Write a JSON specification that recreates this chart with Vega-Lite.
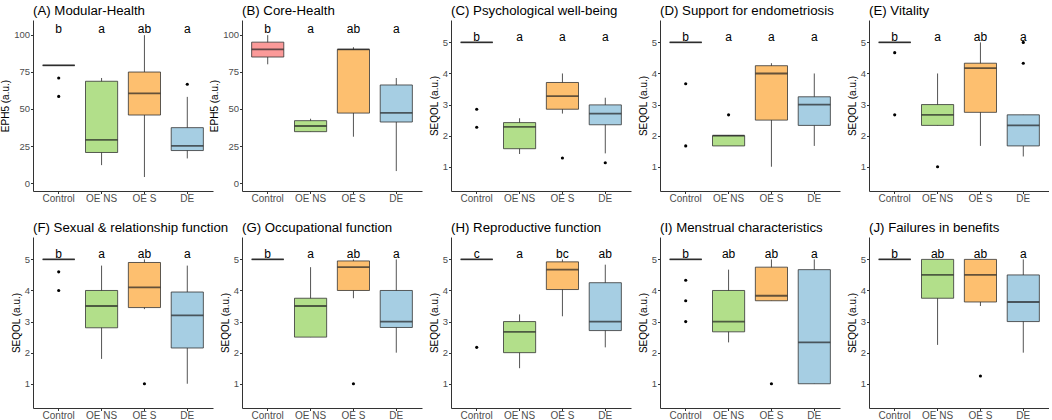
{
  "$schema": "https://vega.github.io/schema/vega-lite/v6.json",
  "padding": {"left": 0, "top": 3, "right": 0, "bottom": 0},
  "bounds": "flush",
  "columns": 5,
  "spacing": {"row": 46, "column": 29},
  "data": {
    "values": [
      {"p": "A", "g": "Control", "lo": 79.3, "q1": 79.3, "med": 79.3, "q3": 79.3, "hi": 79.3, "sig": "b"},
      {"p": "A", "g": "OE NS", "lo": 12.2, "q1": 20.7, "med": 29.2, "q3": 68.6, "hi": 70.8, "sig": "a"},
      {"p": "A", "g": "OE S", "lo": 4.2, "q1": 45.9, "med": 60.4, "q3": 74.8, "hi": 99.6, "sig": "ab"},
      {"p": "A", "g": "DE", "lo": 16.7, "q1": 22.0, "med": 25.2, "q3": 37.4, "hi": 58.1, "sig": "a"},
      {"p": "B", "g": "Control", "lo": 80.0, "q1": 84.9, "med": 90.0, "q3": 94.9, "hi": 99.6, "sig": "b"},
      {"p": "B", "g": "OE NS", "lo": 34.7, "q1": 34.7, "med": 38.5, "q3": 42.1, "hi": 43.4, "sig": "a"},
      {"p": "B", "g": "OE S", "lo": 31.3, "q1": 47.2, "med": 90.0, "q3": 90.0, "hi": 91.5, "sig": "ab"},
      {"p": "B", "g": "DE", "lo": 8.2, "q1": 41.2, "med": 47.4, "q3": 66.1, "hi": 70.8, "sig": "a"},
      {"p": "C", "g": "Control", "lo": 5, "q1": 5, "med": 5, "q3": 5, "hi": 5, "sig": "b"},
      {"p": "C", "g": "OE NS", "lo": 1.41, "q1": 1.58, "med": 2.28, "q3": 2.42, "hi": 2.56, "sig": "a"},
      {"p": "C", "g": "OE S", "lo": 2.71, "q1": 2.85, "med": 3.27, "q3": 3.71, "hi": 4.0, "sig": "a"},
      {"p": "C", "g": "DE", "lo": 1.43, "q1": 2.35, "med": 2.71, "q3": 2.99, "hi": 3.22, "sig": "a"},
      {"p": "D", "g": "Control", "lo": 5, "q1": 5, "med": 5, "q3": 5, "hi": 5, "sig": "b"},
      {"p": "D", "g": "OE NS", "lo": 1.67, "q1": 1.67, "med": 2.0, "q3": 2.0, "hi": 2.0, "sig": "a"},
      {"p": "D", "g": "OE S", "lo": 1.0, "q1": 2.5, "med": 4.0, "q3": 4.25, "hi": 4.33, "sig": "a"},
      {"p": "D", "g": "DE", "lo": 1.67, "q1": 2.33, "med": 3.0, "q3": 3.25, "hi": 4.0, "sig": "a"},
      {"p": "E", "g": "Control", "lo": 5, "q1": 5, "med": 5, "q3": 5, "hi": 5, "sig": "b"},
      {"p": "E", "g": "OE NS", "lo": 2.33, "q1": 2.33, "med": 2.67, "q3": 3.0, "hi": 4.0, "sig": "a"},
      {"p": "E", "g": "OE S", "lo": 1.67, "q1": 2.75, "med": 4.17, "q3": 4.33, "hi": 5.0, "sig": "ab"},
      {"p": "E", "g": "DE", "lo": 1.33, "q1": 1.67, "med": 2.33, "q3": 2.67, "hi": 2.67, "sig": "a"},
      {"p": "F", "g": "Control", "lo": 5, "q1": 5, "med": 5, "q3": 5, "hi": 5, "sig": "b"},
      {"p": "F", "g": "OE NS", "lo": 1.8, "q1": 2.8, "med": 3.5, "q3": 4.0, "hi": 4.8, "sig": "a"},
      {"p": "F", "g": "OE S", "lo": 3.4, "q1": 3.45, "med": 4.1, "q3": 4.9, "hi": 5.0, "sig": "ab"},
      {"p": "F", "g": "DE", "lo": 1.0, "q1": 2.15, "med": 3.2, "q3": 3.95, "hi": 4.8, "sig": "a"},
      {"p": "G", "g": "Control", "lo": 5, "q1": 5, "med": 5, "q3": 5, "hi": 5, "sig": "b"},
      {"p": "G", "g": "OE NS", "lo": 2.5, "q1": 2.5, "med": 3.5, "q3": 3.75, "hi": 4.75, "sig": "a"},
      {"p": "G", "g": "OE S", "lo": 3.75, "q1": 4.0, "med": 4.75, "q3": 4.95, "hi": 5.0, "sig": "ab"},
      {"p": "G", "g": "DE", "lo": 2.0, "q1": 2.81, "med": 3.0, "q3": 4.0, "hi": 5.0, "sig": "a"},
      {"p": "H", "g": "Control", "lo": 5, "q1": 5, "med": 5, "q3": 5, "hi": 5, "sig": "c"},
      {"p": "H", "g": "OE NS", "lo": 1.5, "q1": 2.0, "med": 2.67, "q3": 3.0, "hi": 3.23, "sig": "a"},
      {"p": "H", "g": "OE S", "lo": 3.17, "q1": 4.03, "med": 4.67, "q3": 4.92, "hi": 5.0, "sig": "bc"},
      {"p": "H", "g": "DE", "lo": 2.17, "q1": 2.71, "med": 3.0, "q3": 4.25, "hi": 4.83, "sig": "ab"},
      {"p": "I", "g": "Control", "lo": 5, "q1": 5, "med": 5, "q3": 5, "hi": 5, "sig": "b"},
      {"p": "I", "g": "OE NS", "lo": 2.33, "q1": 2.67, "med": 3.0, "q3": 4.0, "hi": 4.67, "sig": "ab"},
      {"p": "I", "g": "OE S", "lo": 3.67, "q1": 3.67, "med": 3.83, "q3": 4.75, "hi": 5.0, "sig": "ab"},
      {"p": "I", "g": "DE", "lo": 1.0, "q1": 1.0, "med": 2.33, "q3": 4.67, "hi": 5.0, "sig": "a"},
      {"p": "J", "g": "Control", "lo": 5, "q1": 5, "med": 5, "q3": 5, "hi": 5, "sig": "b"},
      {"p": "J", "g": "OE NS", "lo": 2.25, "q1": 3.75, "med": 4.5, "q3": 5.0, "hi": 5.0, "sig": "ab"},
      {"p": "J", "g": "OE S", "lo": 3.5, "q1": 3.63, "med": 4.5, "q3": 5.0, "hi": 5.0, "sig": "ab"},
      {"p": "J", "g": "DE", "lo": 2.0, "q1": 3.0, "med": 3.63, "q3": 4.5, "hi": 5.0, "sig": "a"},
      {"p": "A", "g": "Control", "out": 70.8},
      {"p": "A", "g": "Control", "out": 58.4},
      {"p": "A", "g": "DE", "out": 66.6},
      {"p": "C", "g": "Control", "out": 2.85},
      {"p": "C", "g": "Control", "out": 2.27},
      {"p": "C", "g": "OE S", "out": 1.28},
      {"p": "C", "g": "DE", "out": 1.13},
      {"p": "D", "g": "Control", "out": 3.67},
      {"p": "D", "g": "Control", "out": 1.67},
      {"p": "D", "g": "OE NS", "out": 2.67},
      {"p": "E", "g": "Control", "out": 4.67},
      {"p": "E", "g": "Control", "out": 2.67},
      {"p": "E", "g": "OE NS", "out": 1.0},
      {"p": "E", "g": "DE", "out": 5.0},
      {"p": "E", "g": "DE", "out": 4.33},
      {"p": "F", "g": "Control", "out": 4.6},
      {"p": "F", "g": "Control", "out": 4.0},
      {"p": "F", "g": "OE S", "out": 1.0},
      {"p": "G", "g": "OE S", "out": 1.0},
      {"p": "H", "g": "Control", "out": 2.17},
      {"p": "I", "g": "Control", "out": 4.33},
      {"p": "I", "g": "Control", "out": 3.67},
      {"p": "I", "g": "Control", "out": 3.0},
      {"p": "I", "g": "OE S", "out": 1.0},
      {"p": "J", "g": "OE S", "out": 1.25}
    ]
  },
  "concat": [
    {
      "title": "(A) Modular-Health",
      "width": 180, "height": 171,
      "transform": [{"filter": "datum.p == 'A'"}],
      "encoding": {"x": {"field": "g", "type": "nominal", "sort": ["Control", "OE NS", "OE S", "DE"], "scale": {"type": "band"}, "title": null}},
      "layer": [
        {"mark": {"type": "rule", "color": "#555555", "strokeWidth": 1}, "encoding": {"y": {"field": "lo", "type": "quantitative", "title": "EPH5 (a.u.)", "scale": {"domain": [-5.2, 109.8], "nice": false, "zero": false}, "axis": {"values": [0, 25, 50, 75, 100]}}, "y2": {"field": "hi"}}},
        {"mark": {"type": "bar", "stroke": "#333333", "strokeWidth": 0.8}, "encoding": {"y": {"field": "q1", "type": "quantitative", "title": "EPH5 (a.u.)"}, "y2": {"field": "q3"}, "color": {"field": "g", "legend": null}}},
        {"mark": {"type": "tick", "color": "#222222", "thickness": 1.8, "size": 32}, "encoding": {"y": {"field": "med", "type": "quantitative", "title": "EPH5 (a.u.)"}}},
        {"mark": {"type": "point", "filled": true, "color": "black", "size": 10, "opacity": 1}, "encoding": {"y": {"field": "out", "type": "quantitative", "title": "EPH5 (a.u.)"}}},
        {"transform": [{"filter": "isValid(datum.sig)"}], "mark": {"type": "text", "fontSize": 12}, "encoding": {"y": {"datum": 103.6}, "text": {"field": "sig"}}}
      ]
    },
    {
      "title": "(B) Core-Health",
      "width": 180, "height": 171,
      "transform": [{"filter": "datum.p == 'B'"}],
      "encoding": {"x": {"field": "g", "type": "nominal", "sort": ["Control", "OE NS", "OE S", "DE"], "scale": {"type": "band"}, "title": null}},
      "layer": [
        {"mark": {"type": "rule", "color": "#555555", "strokeWidth": 1}, "encoding": {"y": {"field": "lo", "type": "quantitative", "title": "EPH5 (a.u.)", "scale": {"domain": [-5.2, 109.8], "nice": false, "zero": false}, "axis": {"values": [0, 25, 50, 75, 100]}}, "y2": {"field": "hi"}}},
        {"mark": {"type": "bar", "stroke": "#333333", "strokeWidth": 0.8}, "encoding": {"y": {"field": "q1", "type": "quantitative", "title": "EPH5 (a.u.)"}, "y2": {"field": "q3"}, "color": {"field": "g", "legend": null}}},
        {"mark": {"type": "tick", "color": "#222222", "thickness": 1.8, "size": 32}, "encoding": {"y": {"field": "med", "type": "quantitative", "title": "EPH5 (a.u.)"}}},
        {"mark": {"type": "point", "filled": true, "color": "black", "size": 10, "opacity": 1}, "encoding": {"y": {"field": "out", "type": "quantitative", "title": "EPH5 (a.u.)"}}},
        {"transform": [{"filter": "isValid(datum.sig)"}], "mark": {"type": "text", "fontSize": 12}, "encoding": {"y": {"datum": 103.6}, "text": {"field": "sig"}}}
      ]
    },
    {
      "title": "(C) Psychological well-being",
      "width": 180, "height": 171,
      "transform": [{"filter": "datum.p == 'C'"}],
      "encoding": {"x": {"field": "g", "type": "nominal", "sort": ["Control", "OE NS", "OE S", "DE"], "scale": {"type": "band"}, "title": null}},
      "layer": [
        {"mark": {"type": "rule", "color": "#555555", "strokeWidth": 1}, "encoding": {"y": {"field": "lo", "type": "quantitative", "title": "SEQOL (a.u.)", "scale": {"domain": [0.22, 5.72], "nice": false, "zero": false}, "axis": {"values": [1, 2, 3, 4, 5]}}, "y2": {"field": "hi"}}},
        {"mark": {"type": "bar", "stroke": "#333333", "strokeWidth": 0.8}, "encoding": {"y": {"field": "q1", "type": "quantitative", "title": "SEQOL (a.u.)"}, "y2": {"field": "q3"}, "color": {"field": "g", "legend": null}}},
        {"mark": {"type": "tick", "color": "#222222", "thickness": 1.8, "size": 32}, "encoding": {"y": {"field": "med", "type": "quantitative", "title": "SEQOL (a.u.)"}}},
        {"mark": {"type": "point", "filled": true, "color": "black", "size": 10, "opacity": 1}, "encoding": {"y": {"field": "out", "type": "quantitative", "title": "SEQOL (a.u.)"}}},
        {"transform": [{"filter": "isValid(datum.sig)"}], "mark": {"type": "text", "fontSize": 12}, "encoding": {"y": {"datum": 5.18}, "text": {"field": "sig"}}}
      ]
    },
    {
      "title": "(D) Support for endometriosis",
      "width": 180, "height": 171,
      "transform": [{"filter": "datum.p == 'D'"}],
      "encoding": {"x": {"field": "g", "type": "nominal", "sort": ["Control", "OE NS", "OE S", "DE"], "scale": {"type": "band"}, "title": null}},
      "layer": [
        {"mark": {"type": "rule", "color": "#555555", "strokeWidth": 1}, "encoding": {"y": {"field": "lo", "type": "quantitative", "title": "SEQOL (a.u.)", "scale": {"domain": [0.22, 5.72], "nice": false, "zero": false}, "axis": {"values": [1, 2, 3, 4, 5]}}, "y2": {"field": "hi"}}},
        {"mark": {"type": "bar", "stroke": "#333333", "strokeWidth": 0.8}, "encoding": {"y": {"field": "q1", "type": "quantitative", "title": "SEQOL (a.u.)"}, "y2": {"field": "q3"}, "color": {"field": "g", "legend": null}}},
        {"mark": {"type": "tick", "color": "#222222", "thickness": 1.8, "size": 32}, "encoding": {"y": {"field": "med", "type": "quantitative", "title": "SEQOL (a.u.)"}}},
        {"mark": {"type": "point", "filled": true, "color": "black", "size": 10, "opacity": 1}, "encoding": {"y": {"field": "out", "type": "quantitative", "title": "SEQOL (a.u.)"}}},
        {"transform": [{"filter": "isValid(datum.sig)"}], "mark": {"type": "text", "fontSize": 12}, "encoding": {"y": {"datum": 5.18}, "text": {"field": "sig"}}}
      ]
    },
    {
      "title": "(E) Vitality",
      "width": 180, "height": 171,
      "transform": [{"filter": "datum.p == 'E'"}],
      "encoding": {"x": {"field": "g", "type": "nominal", "sort": ["Control", "OE NS", "OE S", "DE"], "scale": {"type": "band"}, "title": null}},
      "layer": [
        {"mark": {"type": "rule", "color": "#555555", "strokeWidth": 1}, "encoding": {"y": {"field": "lo", "type": "quantitative", "title": "SEQOL (a.u.)", "scale": {"domain": [0.22, 5.72], "nice": false, "zero": false}, "axis": {"values": [1, 2, 3, 4, 5]}}, "y2": {"field": "hi"}}},
        {"mark": {"type": "bar", "stroke": "#333333", "strokeWidth": 0.8}, "encoding": {"y": {"field": "q1", "type": "quantitative", "title": "SEQOL (a.u.)"}, "y2": {"field": "q3"}, "color": {"field": "g", "legend": null}}},
        {"mark": {"type": "tick", "color": "#222222", "thickness": 1.8, "size": 32}, "encoding": {"y": {"field": "med", "type": "quantitative", "title": "SEQOL (a.u.)"}}},
        {"mark": {"type": "point", "filled": true, "color": "black", "size": 10, "opacity": 1}, "encoding": {"y": {"field": "out", "type": "quantitative", "title": "SEQOL (a.u.)"}}},
        {"transform": [{"filter": "isValid(datum.sig)"}], "mark": {"type": "text", "fontSize": 12}, "encoding": {"y": {"datum": 5.18}, "text": {"field": "sig"}}}
      ]
    },
    {
      "title": "(F) Sexual & relationship function",
      "width": 180, "height": 171,
      "transform": [{"filter": "datum.p == 'F'"}],
      "encoding": {"x": {"field": "g", "type": "nominal", "sort": ["Control", "OE NS", "OE S", "DE"], "scale": {"type": "band"}, "title": null}},
      "layer": [
        {"mark": {"type": "rule", "color": "#555555", "strokeWidth": 1}, "encoding": {"y": {"field": "lo", "type": "quantitative", "title": "SEQOL (a.u.)", "scale": {"domain": [0.22, 5.72], "nice": false, "zero": false}, "axis": {"values": [1, 2, 3, 4, 5]}}, "y2": {"field": "hi"}}},
        {"mark": {"type": "bar", "stroke": "#333333", "strokeWidth": 0.8}, "encoding": {"y": {"field": "q1", "type": "quantitative", "title": "SEQOL (a.u.)"}, "y2": {"field": "q3"}, "color": {"field": "g", "legend": null}}},
        {"mark": {"type": "tick", "color": "#222222", "thickness": 1.8, "size": 32}, "encoding": {"y": {"field": "med", "type": "quantitative", "title": "SEQOL (a.u.)"}}},
        {"mark": {"type": "point", "filled": true, "color": "black", "size": 10, "opacity": 1}, "encoding": {"y": {"field": "out", "type": "quantitative", "title": "SEQOL (a.u.)"}}},
        {"transform": [{"filter": "isValid(datum.sig)"}], "mark": {"type": "text", "fontSize": 12}, "encoding": {"y": {"datum": 5.18}, "text": {"field": "sig"}}}
      ]
    },
    {
      "title": "(G) Occupational function",
      "width": 180, "height": 171,
      "transform": [{"filter": "datum.p == 'G'"}],
      "encoding": {"x": {"field": "g", "type": "nominal", "sort": ["Control", "OE NS", "OE S", "DE"], "scale": {"type": "band"}, "title": null}},
      "layer": [
        {"mark": {"type": "rule", "color": "#555555", "strokeWidth": 1}, "encoding": {"y": {"field": "lo", "type": "quantitative", "title": "SEQOL (a.u.)", "scale": {"domain": [0.22, 5.72], "nice": false, "zero": false}, "axis": {"values": [1, 2, 3, 4, 5]}}, "y2": {"field": "hi"}}},
        {"mark": {"type": "bar", "stroke": "#333333", "strokeWidth": 0.8}, "encoding": {"y": {"field": "q1", "type": "quantitative", "title": "SEQOL (a.u.)"}, "y2": {"field": "q3"}, "color": {"field": "g", "legend": null}}},
        {"mark": {"type": "tick", "color": "#222222", "thickness": 1.8, "size": 32}, "encoding": {"y": {"field": "med", "type": "quantitative", "title": "SEQOL (a.u.)"}}},
        {"mark": {"type": "point", "filled": true, "color": "black", "size": 10, "opacity": 1}, "encoding": {"y": {"field": "out", "type": "quantitative", "title": "SEQOL (a.u.)"}}},
        {"transform": [{"filter": "isValid(datum.sig)"}], "mark": {"type": "text", "fontSize": 12}, "encoding": {"y": {"datum": 5.18}, "text": {"field": "sig"}}}
      ]
    },
    {
      "title": "(H) Reproductive function",
      "width": 180, "height": 171,
      "transform": [{"filter": "datum.p == 'H'"}],
      "encoding": {"x": {"field": "g", "type": "nominal", "sort": ["Control", "OE NS", "OE S", "DE"], "scale": {"type": "band"}, "title": null}},
      "layer": [
        {"mark": {"type": "rule", "color": "#555555", "strokeWidth": 1}, "encoding": {"y": {"field": "lo", "type": "quantitative", "title": "SEQOL (a.u.)", "scale": {"domain": [0.22, 5.72], "nice": false, "zero": false}, "axis": {"values": [1, 2, 3, 4, 5]}}, "y2": {"field": "hi"}}},
        {"mark": {"type": "bar", "stroke": "#333333", "strokeWidth": 0.8}, "encoding": {"y": {"field": "q1", "type": "quantitative", "title": "SEQOL (a.u.)"}, "y2": {"field": "q3"}, "color": {"field": "g", "legend": null}}},
        {"mark": {"type": "tick", "color": "#222222", "thickness": 1.8, "size": 32}, "encoding": {"y": {"field": "med", "type": "quantitative", "title": "SEQOL (a.u.)"}}},
        {"mark": {"type": "point", "filled": true, "color": "black", "size": 10, "opacity": 1}, "encoding": {"y": {"field": "out", "type": "quantitative", "title": "SEQOL (a.u.)"}}},
        {"transform": [{"filter": "isValid(datum.sig)"}], "mark": {"type": "text", "fontSize": 12}, "encoding": {"y": {"datum": 5.18}, "text": {"field": "sig"}}}
      ]
    },
    {
      "title": "(I) Menstrual characteristics",
      "width": 180, "height": 171,
      "transform": [{"filter": "datum.p == 'I'"}],
      "encoding": {"x": {"field": "g", "type": "nominal", "sort": ["Control", "OE NS", "OE S", "DE"], "scale": {"type": "band"}, "title": null}},
      "layer": [
        {"mark": {"type": "rule", "color": "#555555", "strokeWidth": 1}, "encoding": {"y": {"field": "lo", "type": "quantitative", "title": "SEQOL (a.u.)", "scale": {"domain": [0.22, 5.72], "nice": false, "zero": false}, "axis": {"values": [1, 2, 3, 4, 5]}}, "y2": {"field": "hi"}}},
        {"mark": {"type": "bar", "stroke": "#333333", "strokeWidth": 0.8}, "encoding": {"y": {"field": "q1", "type": "quantitative", "title": "SEQOL (a.u.)"}, "y2": {"field": "q3"}, "color": {"field": "g", "legend": null}}},
        {"mark": {"type": "tick", "color": "#222222", "thickness": 1.8, "size": 32}, "encoding": {"y": {"field": "med", "type": "quantitative", "title": "SEQOL (a.u.)"}}},
        {"mark": {"type": "point", "filled": true, "color": "black", "size": 10, "opacity": 1}, "encoding": {"y": {"field": "out", "type": "quantitative", "title": "SEQOL (a.u.)"}}},
        {"transform": [{"filter": "isValid(datum.sig)"}], "mark": {"type": "text", "fontSize": 12}, "encoding": {"y": {"datum": 5.18}, "text": {"field": "sig"}}}
      ]
    },
    {
      "title": "(J) Failures in benefits",
      "width": 180, "height": 171,
      "transform": [{"filter": "datum.p == 'J'"}],
      "encoding": {"x": {"field": "g", "type": "nominal", "sort": ["Control", "OE NS", "OE S", "DE"], "scale": {"type": "band"}, "title": null}},
      "layer": [
        {"mark": {"type": "rule", "color": "#555555", "strokeWidth": 1}, "encoding": {"y": {"field": "lo", "type": "quantitative", "title": "SEQOL (a.u.)", "scale": {"domain": [0.22, 5.72], "nice": false, "zero": false}, "axis": {"values": [1, 2, 3, 4, 5]}}, "y2": {"field": "hi"}}},
        {"mark": {"type": "bar", "stroke": "#333333", "strokeWidth": 0.8}, "encoding": {"y": {"field": "q1", "type": "quantitative", "title": "SEQOL (a.u.)"}, "y2": {"field": "q3"}, "color": {"field": "g", "legend": null}}},
        {"mark": {"type": "tick", "color": "#222222", "thickness": 1.8, "size": 32}, "encoding": {"y": {"field": "med", "type": "quantitative", "title": "SEQOL (a.u.)"}}},
        {"mark": {"type": "point", "filled": true, "color": "black", "size": 10, "opacity": 1}, "encoding": {"y": {"field": "out", "type": "quantitative", "title": "SEQOL (a.u.)"}}},
        {"transform": [{"filter": "isValid(datum.sig)"}], "mark": {"type": "text", "fontSize": 12}, "encoding": {"y": {"datum": 5.18}, "text": {"field": "sig"}}}
      ]
    }
  ],
  "config": {
    "font": "Liberation Sans",
    "background": "white",
    "view": {"stroke": null},
    "range": {"category": ["#FB9A99", "#A6CEE3", "#B2DF8A", "#FDBF6F"]},
    "scale": {"bandPaddingInner": 0.25, "bandPaddingOuter": 0.225},
    "axis": {
      "grid": false,
      "domainColor": "#333333",
      "tickColor": "#333333",
      "tickSize": 2.5,
      "labelColor": "#4d4d4d",
      "labelFontSize": 9.5,
      "labelPadding": 1,
      "titleFontSize": 10,
      "titleFontWeight": "normal",
      "titleColor": "black"
    },
    "axisX": {"labelAngle": 0, "labelPadding": 0, "labelBaseline": "top", "labelFontSize": 10},
    "axisY": {"titlePadding": 3},
    "title": {"anchor": "start", "frame": "group", "fontSize": 13.25, "fontWeight": "normal", "color": "black", "offset": 2},
    "text": {"color": "black", "font": "Liberation Sans"}
  }
}
